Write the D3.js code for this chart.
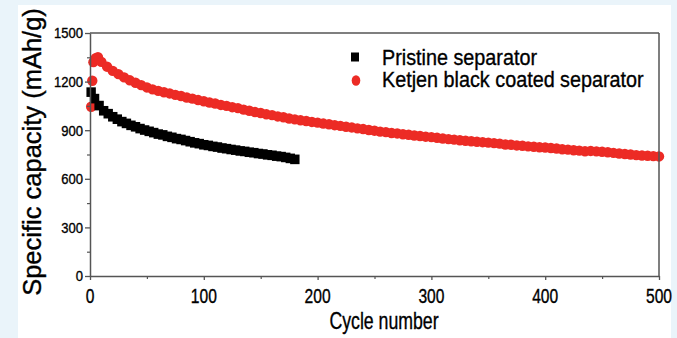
<!DOCTYPE html>
<html>
<head>
<meta charset="utf-8">
<script src="https://cdn.jsdelivr.net/npm/d3@7"></script>
<style>
  html, body { margin: 0; padding: 0; background: #eaf4fa; }
  svg { display: block; }
  text { font-family: "Liberation Sans", Arial, sans-serif; fill: #000; stroke: #000; stroke-width: 0.35px; }
</style>
</head>
<body>
<svg id="chart" width="677" height="338"></svg>
<script>
// ---- data ----
const pristineCycles = [1, 4, 8, 12, 16, 20, 24, 28, 32, 36, 40, 44, 48, 52, 56, 60, 64, 68, 72, 76, 80, 84, 88, 92, 96, 100, 104, 108, 112, 116, 120, 124, 128, 132, 136, 140, 144, 148, 152, 156, 160, 164, 168, 172, 176, 180];
const pristineCapacity = [1135, 1095, 1052, 1020, 1002, 983, 968, 953, 942, 930, 921, 910, 901, 893, 885, 876, 871, 862, 856, 848, 843, 836, 829, 822, 817, 810, 806, 800, 796, 790, 786, 781, 777, 772, 769, 764, 761, 756, 753, 748, 745, 740, 737, 732, 726, 720];

const ketjenCycles = [1, 2, 3, 5, 7, 10, 15, 20, 25, 30, 35, 40, 45, 50, 55, 60, 65, 70, 75, 80, 85, 90, 95, 100, 105, 110, 115, 120, 125, 130, 135, 140, 145, 150, 155, 160, 165, 170, 175, 180, 185, 190, 195, 200, 205, 210, 215, 220, 225, 230, 235, 240, 245, 250, 255, 260, 265, 270, 275, 280, 285, 290, 295, 300, 305, 310, 315, 320, 325, 330, 335, 340, 345, 350, 355, 360, 365, 370, 375, 380, 385, 390, 395, 400, 405, 410, 415, 420, 425, 430, 435, 440, 445, 450, 455, 460, 465, 470, 475, 480, 485, 490, 495, 500];
const ketjenCapacity = [1045, 1205, 1320, 1345, 1350, 1322, 1292, 1266, 1246, 1226, 1208, 1193, 1178, 1164, 1152, 1143, 1134, 1127, 1118, 1111, 1102, 1095, 1086, 1079, 1071, 1065, 1056, 1050, 1042, 1036, 1027, 1020, 1012, 1006, 998, 993, 985, 980, 972, 967, 961, 957, 951, 947, 941, 937, 931, 927, 921, 917, 911, 907, 901, 897, 891, 888, 883, 880, 875, 872, 867, 864, 860, 857, 853, 849, 845, 842, 838, 835, 832, 829, 826, 823, 820, 817, 812, 810, 806, 804, 800, 798, 795, 793, 790, 787, 782, 780, 776, 774, 770, 772, 769, 767, 764, 760, 756, 753, 750, 746, 744, 742, 740, 738];

const xTicks = [0, 100, 200, 300, 400, 500];
const xMinorTicks = [50, 150, 250, 350, 450];
const yTicks = [0, 300, 600, 900, 1200, 1500];
const yMinorTicks = [150, 450, 750, 1050, 1350];

const seriesNames = ["Pristine separator", "Ketjen black coated separator"];
const xTitle = "Cycle number";
const yTitle = "Specific capacity (mAh/g)";

// ---- layout ----
const svg = d3.select("#chart");
const L = 90, R = 659, T = 33, B = 276;
const axisColor = "#555";
const red = "#ec2b25";

svg.append("rect").attr("x", 18).attr("y", 5).attr("width", 653).attr("height", 333).attr("fill", "#ffffff");

const x = d3.scaleLinear().domain([0, 500]).range([L, R]);
const y = d3.scaleLinear().domain([0, 1500]).range([B, T]);

const ketjen = ketjenCycles.map((c, i) => ({c, v: ketjenCapacity[i]}));
const pristine = pristineCycles.map((c, i) => ({c, v: pristineCapacity[i]}));

svg.append("g").selectAll("circle").data(ketjen).join("circle")
  .attr("cx", d => x(d.c)).attr("cy", d => y(d.v)).attr("r", 5.2).attr("fill", red);

svg.append("g").selectAll("rect").data(pristine).join("rect")
  .attr("x", d => x(d.c) - 4.7).attr("y", d => y(d.v) - 4.8)
  .attr("width", 9.4).attr("height", 9.6).attr("fill", "#000");

// frame
svg.append("line").attr("x1", L).attr("x2", R).attr("y1", T).attr("y2", T).attr("stroke", axisColor).attr("stroke-width", 1.5);
svg.append("line").attr("x1", R).attr("x2", R).attr("y1", T).attr("y2", B).attr("stroke", axisColor).attr("stroke-width", 1.5);

// x axis
const xAxis = svg.append("g").attr("transform", `translate(0,${B})`)
  .call(d3.axisBottom(x).tickValues(xTicks).tickSize(4).tickSizeOuter(0).tickFormat(""));
xAxis.select(".domain").attr("stroke", axisColor).attr("stroke-width", 1.5);
xAxis.selectAll(".tick line").attr("stroke", axisColor).attr("stroke-width", 1.3);
const xMinor = svg.append("g").attr("transform", `translate(0,${B})`)
  .call(d3.axisBottom(x).tickValues(xMinorTicks).tickSize(3).tickSizeOuter(0).tickFormat(""));
xMinor.select(".domain").remove();
xMinor.selectAll(".tick line").attr("stroke", axisColor).attr("stroke-width", 1.2);

svg.append("g").selectAll("text").data(xTicks).join("text")
  .attr("transform", d => `translate(${x(d)},303) scale(0.8,1)`)
  .attr("text-anchor", "middle").attr("font-size", 19.5).text(d => d);

// y axis
const yAxis = svg.append("g").attr("transform", `translate(${L},0)`)
  .call(d3.axisLeft(y).tickValues(yTicks).tickSize(5).tickSizeOuter(0).tickFormat(""));
yAxis.select(".domain").attr("stroke", axisColor).attr("stroke-width", 1.5);
yAxis.selectAll(".tick line").attr("stroke", axisColor).attr("stroke-width", 1.3);
const yMinor = svg.append("g").attr("transform", `translate(${L},0)`)
  .call(d3.axisLeft(y).tickValues(yMinorTicks).tickSize(3).tickSizeOuter(0).tickFormat(""));
yMinor.select(".domain").remove();
yMinor.selectAll(".tick line").attr("stroke", axisColor).attr("stroke-width", 1.2);

svg.append("g").selectAll("text").data(yTicks).join("text")
  .attr("transform", d => `translate(83,${y(d) + 5.3}) scale(0.88,1)`)
  .attr("text-anchor", "end").attr("font-size", 14.8).text(d => d);

// titles
svg.append("text").attr("transform", "translate(384,329) scale(0.77,1)")
  .attr("text-anchor", "middle").attr("font-size", 23).text(xTitle);
svg.append("text").attr("transform", "translate(41,152) rotate(-90)")
  .attr("text-anchor", "middle").attr("font-size", 25.5).text(yTitle);

// legend
svg.append("rect").attr("x", 351).attr("y", 52.5).attr("width", 8).attr("height", 9).attr("fill", "#000");
svg.append("ellipse").attr("cx", 356).attr("cy", 80.5).attr("rx", 4.3).attr("ry", 5.3).attr("fill", red);
svg.append("text").attr("transform", "translate(382,64.7) scale(0.9,1)").attr("font-size", 22).text(seriesNames[0]);
svg.append("text").attr("transform", "translate(382,86.5) scale(0.9,1)").attr("font-size", 22).text(seriesNames[1]);
</script>
</body>
</html>
